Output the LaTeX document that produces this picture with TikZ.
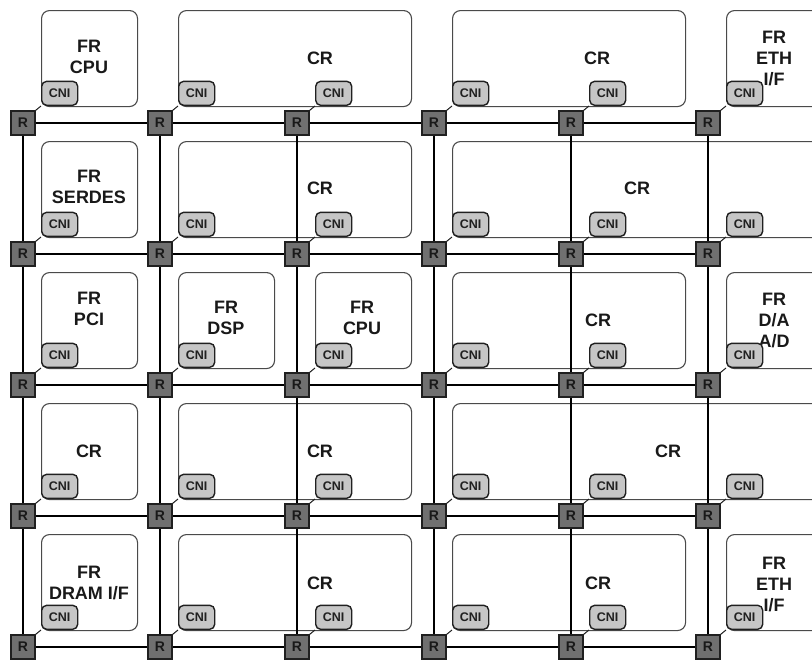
\documentclass[tikz,border=0pt]{standalone}
\usepackage{fontspec}
\setmainfont{Liberation Sans}
\definecolor{tileg}{HTML}{4A4A4A}
\definecolor{cnig}{HTML}{C6C6C6}
\definecolor{routg}{HTML}{707070}
\definecolor{edgeg}{HTML}{202020}
\begin{document}
\begin{tikzpicture}[x=1pt,y=-1pt,
  tile/.style={draw=tileg, line width=1.1pt, rounded corners=8pt, fill=white, anchor=north west, inner sep=0pt, minimum height=96pt},
  cni/.style={draw=edgeg, fill=cnig, line width=1.4pt, rounded corners=5pt, minimum width=36pt, minimum height=24pt, inner sep=0pt, anchor=south west, font=\fontsize{12.5}{14}\selectfont\bfseries, text=edgeg},
  router/.style={draw=edgeg, fill=routg, line width=1.2pt, minimum size=24pt, inner sep=0pt, font=\fontsize{14}{16}\selectfont\bfseries, text=black!90},
  lbl/.style={font=\fontsize{18}{21}\selectfont\bfseries, align=center, text=black!90, inner sep=0pt},
  gridline/.style={line width=2pt, draw=black},
  link/.style={line width=1pt, draw=edgeg}]
\useasboundingbox (0,0) rectangle (812,662);
\clip (0,0) rectangle (812,662);
% tiles
\foreach \nm/\x/\y/\w in {
  t11/41/10/96, t12/178/10/233, t14/452/10/233, t16/726/10/233,
  t21/41/141/96, t22/178/141/233, t24/452/141/370,
  t31/41/272/96, t32/178/272/96, t33/315/272/96, t34/452/272/233, t36/726/272/233,
  t41/41/403/96, t42/178/403/233, t44/452/403/370,
  t51/41/534/96, t52/178/534/233, t54/452/534/233, t56/726/534/233}
  \node[tile, minimum width=\w pt] (\nm) at (\x,\y) {};
% labels
\node[lbl] (l11) at (89,57) {FR\\CPU};
\node[lbl] (l12) at (320,58) {CR};
\node[lbl] (l14) at (597,58) {CR};
\node[lbl] (l16) at (774,58) {FR\\ETH\\I/F};
\node[lbl] (l21) at (89,187) {FR\\SERDES};
\node[lbl] (l22) at (320,188) {CR};
\node[lbl] (l24) at (637,188) {CR};
\node[lbl] (l31) at (89,309) {FR\\PCI};
\node[lbl] (l32) at (226,318) {FR\\DSP};
\node[lbl] (l33) at (362,318) {FR\\CPU};
\node[lbl] (l34) at (598,320) {CR};
\node[lbl] (l36) at (774,320) {FR\\D/A\\A/D};
\node[lbl] (l41) at (89,451) {CR};
\node[lbl] (l42) at (320,451) {CR};
\node[lbl] (l44) at (668,451) {CR};
\node[lbl] (l51) at (89,583) {FR\\DRAM I/F};
\node[lbl] (l52) at (320,583) {CR};
\node[lbl] (l54) at (598,583) {CR};
\node[lbl] (l56) at (774,584) {FR\\ETH\\I/F};
% routers
\foreach \i/\ry in {1/123,2/254,3/385,4/516,5/647}
  \foreach \j/\rx in {1/23,2/160,3/297,4/434,5/571,6/708}
    \node[router] (r\i\j) at (\rx,\ry) {R};
% grid lines
\foreach \i in {1,2,3,4,5}
  \foreach \ja/\jb in {1/2,2/3,3/4,4/5,5/6}
    \draw[gridline] (r\i\ja) -- (r\i\jb);
\foreach \j in {1,2,3,4,5,6}
  \foreach \ia/\ib in {1/2,2/3,3/4,4/5}
    \draw[gridline] (r\ia\j) -- (r\ib\j);
% network interfaces
\foreach \i/\ry in {1/123,2/254,3/385,4/516,5/647}
  \foreach \j/\rx in {1/23,2/160,3/297,4/434,5/571,6/708} {
    \node[cni] (n\i\j) at (\rx+18,\ry-17) {CNI};
    \draw[link] (n\i\j.south west) -- (r\i\j.north east);
  }
\end{tikzpicture}
\end{document}
